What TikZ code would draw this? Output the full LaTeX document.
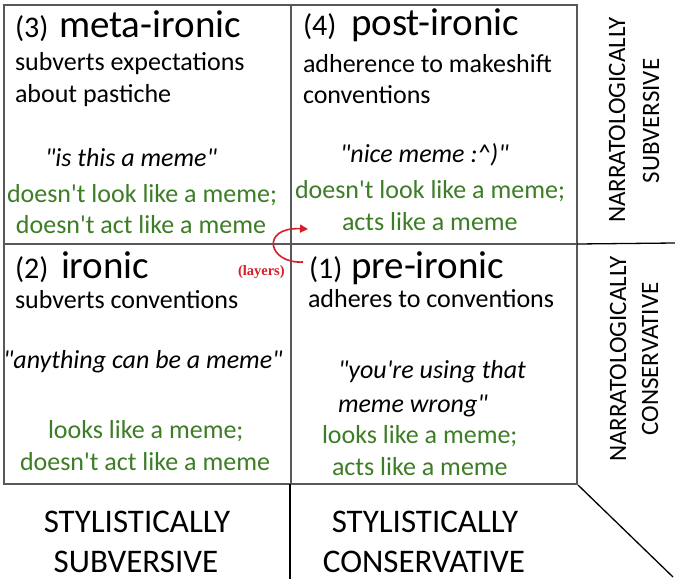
\documentclass[tikz,border=0pt]{standalone}
\usepackage{fontspec}
\setmainfont{Carlito}[Ligatures=TeXOff]
\newfontfamily\layfont{Liberation Serif}[Ligatures=TeXOff]
\usetikzlibrary{arrows.meta}
\definecolor{gridgray}{RGB}{88,88,88}
\definecolor{mgreen}{RGB}{60,125,38}
\definecolor{mred}{RGB}{215,30,40}
\begin{document}
\begin{tikzpicture}[x=1pt,y=-1pt,
  base/.style={anchor=base west, inner sep=0pt, outer sep=0pt},
  txt/.style={base, font=\fontsize{26}{31}\selectfont},
  quote/.style={base, font=\fontsize{26}{31}\selectfont\itshape},
  grn/.style={base, text=mgreen, font=\fontsize{26}{31}\selectfont},
  num/.style={base, font=\fontsize{30}{36}\selectfont},
  title/.style={base, font=\fontsize{39}{47}\selectfont},
  axis/.style={anchor=base, inner sep=0pt, font=\fontsize{33}{40}\selectfont},
  vaxis/.style={anchor=center, inner sep=0pt, rotate=90, font=\fontsize{25}{30}\selectfont},
  gridline/.style={draw=gridgray, line width=2pt},
  extline/.style={draw=black, line width=1.3pt},
  layarrow/.style={draw=mred, line width=1.6pt, -{Triangle[length=8pt,width=8pt]}}
]
\useasboundingbox (0,0) rectangle (675,579);
\fill[white] (0,0) rectangle (675,579);

% grid
\coordinate (tl) at (4,5);
\coordinate (br) at (577,484);
\coordinate (mt) at (291,5);
\coordinate (mb) at (291,484);
\coordinate (ml) at (4,244);
\coordinate (mr) at (577,244);
\draw[gridline] (tl) rectangle (br);
\draw[gridline] (mt) -- (mb);
\draw[gridline] (ml) -- (mr);

% extension lines
\coordinate (er) at (675,243);
\coordinate (eb0) at (290,484);
\coordinate (eb) at (290,579);
\coordinate (d0) at (578,485);
\coordinate (d1) at (673,577);
\draw[extline] (mr) -- (er);
\draw[extline] (eb0) -- (eb);
\draw[extline] (d0) -- (d1);

% cell 3 (top-left)
\node[num] (n3) at (15,37) {(3)};
\node[title] (t3) at (59,37) {meta-ironic};
\node[txt] (s3a) at (15,70) {subverts expectations};
\node[txt] (s3b) at (15,102) {about pastiche};
\node[quote] (q3) at (45,166) {"is this a meme"};
\node[grn] (g3a) at (7,202) {doesn't look like a meme;};
\node[grn] (g3b) at (16,233) {doesn't act like a meme};

% cell 4 (top-right)
\node[num] (n4) at (303,35) {(4)};
\node[title] (t4) at (351,35) {post-ironic};
\node[txt] (s4a) at (303,72) {adherence to makeshift};
\node[txt] (s4b) at (303,103) {conventions};
\node[quote] (q4) at (340,162) {"nice meme :\^{})"};
\node[grn] (g4a) at (295,198) {doesn't look like a meme;};
\node[grn] (g4b) at (342,230) {acts like a meme};

% cell 2 (bottom-left)
\node[num] (n2) at (15,278) {(2)};
\node[title] (t2) at (61,278) {ironic};
\node[txt] (s2a) at (15,308) {subverts conventions};
\node[quote] (q2) at (3,368) {"anything can be a meme"};
\node[grn] (g2a) at (48,438) {looks like a meme;};
\node[grn] (g2b) at (20,470) {doesn't act like a meme};

% cell 1 (bottom-right)
\node[num] (n1) at (309,278) {(1)};
\node[title] (t1) at (351,278) {pre-ironic};
\node[txt] (s1a) at (308,307) {adheres to conventions};
\node[quote] (q1a) at (338,378) {"you're using that};
\node[quote] (q1b) at (338,412) {meme wrong"};
\node[grn] (g1a) at (322,443) {looks like a meme;};
\node[grn] (g1b) at (332,475) {acts like a meme};

% layers arrow
\node[base, text=mred, font=\fontsize{14.5}{17}\selectfont\layfont\bfseries] (lay) at (238,275) {(layers)};
\coordinate (ls) at (303,262);
\coordinate (le) at (308,229);
\draw[layarrow] (ls) .. controls (268,264) and (260,227) .. (le);

% axis labels
\node[axis] (sx1) at (137,532) {STYLISTICALLY};
\node[axis] (sx2) at (136,572) {SUBVERSIVE};
\node[axis] (cx1) at (425,532) {STYLISTICALLY};
\node[axis] (cx2) at (424,572) {CONSERVATIVE};
\node[vaxis] (ny1) at (617,120) {NARRATOLOGICALLY};
\node[vaxis] (ny2) at (651,121) {SUBVERSIVE};
\node[vaxis] (nc1) at (618,359) {NARRATOLOGICALLY};
\node[vaxis] (nc2) at (650,359) {CONSERVATIVE};
\end{tikzpicture}
\end{document}
